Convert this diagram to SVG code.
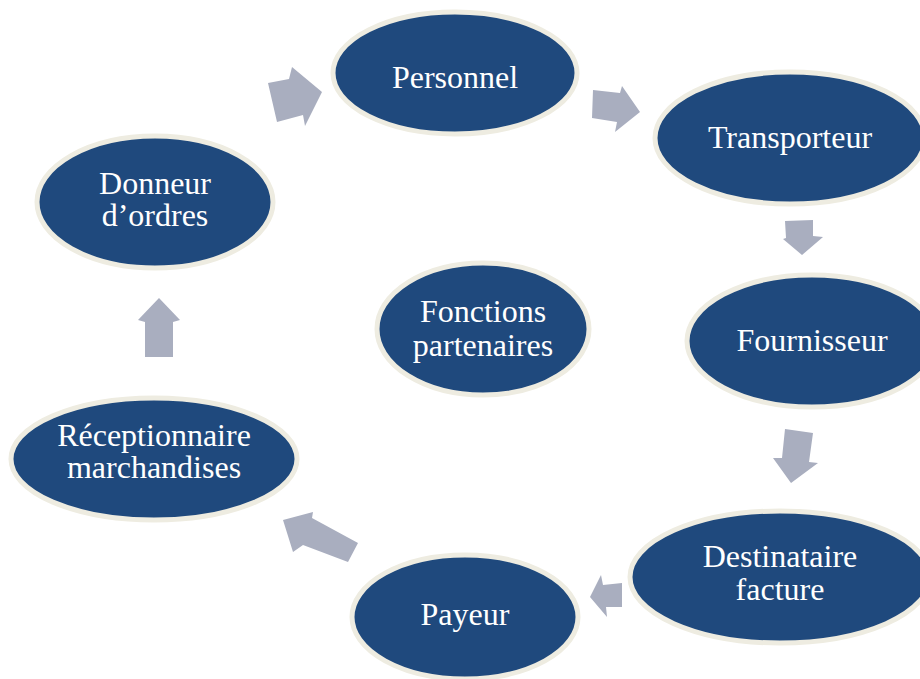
<svg xmlns="http://www.w3.org/2000/svg" width="920" height="679" viewBox="0 0 920 679">
<style>
.n{fill:#1F497D;stroke:#EEECE1;stroke-width:5}
.t{fill:#FFFFFF;font-family:"Liberation Serif","Times New Roman",serif;font-size:32px;text-anchor:middle}
.a{fill:#A9AEBF}
</style>
<rect width="920" height="679" fill="#FFFFFF"/>
<g id="connectors">
<polygon class="a" points="268,83 289,79 292,67 322,92 305,126 303,115 277,122"/>
<polygon class="a" points="593,90 620,93 622,86 640,112 615,132 617,122 592,118"/>
<polygon class="a" points="785,221 813,220 813,236 823,237 802,255 783,239 786,238"/>
<polygon class="a" points="785,429 813,433 809,462 818,463 791,483 773,458 782,458"/>
<polygon class="a" points="622,583 622,607 606,607 607,617 590,597 601,575 603,585"/>
<polygon class="a" points="283,520 313,512 312,518 358,543 348,562 303,545 293,552"/>
<polygon class="a" points="159,298 180,320 173,322 173,357 145,357 145,322 138,320"/>
</g>
<g id="personnel"><ellipse class="n" cx="455" cy="73" rx="122" ry="61"/><text class="t" x="455" y="88">Personnel</text></g>
<g id="transporteur"><ellipse class="n" cx="790" cy="138" rx="135" ry="66"/><text class="t" x="790" y="148">Transporteur</text></g>
<g id="fournisseur"><ellipse class="n" cx="812" cy="341" rx="125" ry="66"/><text class="t" x="812" y="351">Fournisseur</text></g>
<g id="destinataire"><ellipse class="n" cx="780" cy="577" rx="150" ry="66"/><text class="t" x="780" y="567">Destinataire</text><text class="t" x="780" y="600">facture</text></g>
<g id="payeur"><ellipse class="n" cx="465" cy="617" rx="113" ry="62"/><text class="t" x="465" y="625">Payeur</text></g>
<g id="receptionnaire"><ellipse class="n" cx="154" cy="459" rx="143" ry="61"/><text class="t" x="154" y="446">Réceptionnaire</text><text class="t" x="154" y="478">marchandises</text></g>
<g id="donneur"><ellipse class="n" cx="155" cy="202" rx="118" ry="66"/><text class="t" x="155" y="194">Donneur</text><text class="t" x="155" y="226">d’ordres</text></g>
<g id="fonctions"><ellipse class="n" cx="483" cy="329" rx="106" ry="66"/><text class="t" x="483" y="322">Fonctions</text><text class="t" x="483" y="356">partenaires</text></g>
</svg>
